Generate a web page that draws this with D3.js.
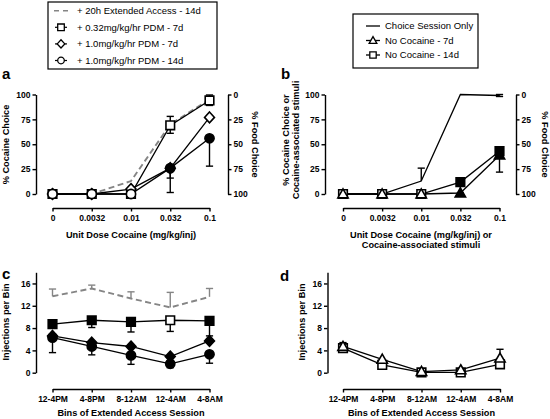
<!DOCTYPE html>
<html><head><meta charset="utf-8">
<script src="https://cdn.jsdelivr.net/npm/d3@7"></script>
<style>
body{margin:0;background:#fff;}
svg{display:block;font-family:"Liberation Sans",Arial,Helvetica,sans-serif;}
</style></head><body>
<svg id="chart" width="550" height="419"></svg>
<script>
// ---------- DATA ----------
const doseLabels = ["0","0.0032","0.01","0.032","0.1"];
const binLabels = ["12-4PM","4-8PM","8-12AM","12-4AM","4-8AM"];
const choiceTicks = [0,25,50,75,100];
const foodTicks = [0,25,50,75,100];
const injTicks = [0,4,8,12,16];

const legendA = ["+ 20h Extended Access - 14d","+ 0.32mg/kg/hr PDM - 7d","+ 1.0mg/kg/hr PDM - 7d","+ 1.0mg/kg/hr PDM - 14d"];
const legendB = ["Choice Session Only","No Cocaine - 7d","No Cocaine - 14d"];

// Panel a: % cocaine choice
const aExt14d = [0,0,13,70,95];
const aPdm032_7d = [0,0,0,69,94];
const aPdm032_7d_hi = [null,null,null,78,99.5];
const aPdm032_7d_lo = [null,null,null,61,89];
const aPdm032_7d_filled = [0,0,0,0,0];
const aPdm10_7d = [0,0,5,26,77];
const aPdm10_7d_lo = [null,null,null,16,null];
const aPdm10_7d_filled = [0,0,0,1,0];
const aPdm10_14d = [0,0,0,26,56];
const aPdm10_14d_lo = [null,null,null,1.5,28];
const aPdm10_14d_filled = [0,0,0,1,1];

// Panel b
const bChoiceOnly = [0,0,13,100,99];
const bChoiceOnly_hi = [null,null,26,null,100];
const bChoiceOnly_lo = [null,null,null,null,98];
const bNoCoc7d = [0,0,0,1,39];
const bNoCoc7d_lo = [null,null,null,null,22];
const bNoCoc7d_filled = [0,0,0,1,1];
const bNoCoc14d = [0,0,0,12,43];
const bNoCoc14d_lo = [null,null,null,1,null];
const bNoCoc14d_filled = [0,0,0,1,1];

// Panel c: injections per bin
const cExt14d = [13.7,15.1,13.3,11.7,13.6];
const cExt14d_hi = [15.0,15.7,14.5,14.4,15.1];
const cPdm032_7d = [8.7,9.4,9.1,9.4,9.3];
const cPdm032_7d_lo = [null,8.1,7.3,7.4,6.6];
const cPdm032_7d_filled = [1,1,1,0,1];
const cPdm10_7d = [6.6,5.4,4.7,2.9,5.7];
const cPdm10_7d_filled = [1,1,1,1,1];
const cPdm10_14d = [6.3,4.7,3.1,1.6,3.3];
const cPdm10_14d_lo = [3.6,3.2,1.5,0.9,1.7];
const cPdm10_14d_filled = [1,1,1,1,1];

// Panel d
const dNoCoc7d = [4.7,2.4,0.2,0.5,2.6];
const dNoCoc7d_hi = [5.4,null,null,null,4.2];
const dNoCoc14d = [4.4,1.4,0.05,0.05,1.5];
const dNoCoc14d_lo = [null,0.9,null,null,null];

// ---------- DRAWING ----------
const svg = d3.select("#chart");
const GRAY = "#858585";

function markerPath(type, r) {
  if (type === "square") return `M${-r},${-r}h${2*r}v${2*r}h${-2*r}Z`;
  if (type === "circle") return d3.symbol(d3.symbolCircle, Math.PI*r*r)();
  if (type === "diamond") return `M0,${-r*1.25}L${r*1.15},0L0,${r*1.25}L${-r*1.15},0Z`;
  if (type === "triangle") return `M0,${-r*1.2}L${r*1.2},${r*0.9}L${-r*1.2},${r*0.9}Z`;
  return "";
}

function styleAxis(g, fs) {
  g.select(".domain").attr("stroke","#000").attr("stroke-width",1.4);
  g.selectAll(".tick line").attr("stroke","#000").attr("stroke-width",1.4);
  g.selectAll(".tick text").attr("fill","#000").attr("font-size",fs||8.5).attr("font-weight","bold");
  g.attr("font-family",null);
}

function panel(cfg) {
  const g = svg.append("g");
  const x = d3.scalePoint().domain(cfg.cats).range(cfg.xRange);
  const y = d3.scaleLinear().domain(cfg.yDomain).range(cfg.yRange);

  // left axis
  const ya = g.append("g").attr("transform",`translate(${cfg.leftX},0)`)
    .call(d3.axisLeft(y).tickValues(cfg.yTicks).tickSize(3.5).tickSizeOuter(0).tickPadding(2));
  styleAxis(ya);
  // right axis
  if (cfg.rightX) {
    const yr = d3.scaleLinear().domain([100,0]).range(cfg.yRange);
    const ra = g.append("g").attr("transform",`translate(${cfg.rightX},0)`)
      .call(d3.axisRight(yr).tickValues(foodTicks).tickSize(3.5).tickSizeOuter(0).tickPadding(2));
    styleAxis(ra);
  }
  // x axis
  const xa = g.append("g").attr("transform",`translate(0,${cfg.xAxisY})`)
    .call(d3.axisBottom(x).tickSize(3.5).tickSizeOuter(0).tickPadding(3.5));
  styleAxis(xa);

  // series lines
  cfg.series.forEach(s => {
    const line = d3.line().x((d,i)=>x(cfg.cats[i])).y(d=>y(d));
    g.append("path").attr("d", line(s.values)).attr("fill","none")
      .attr("stroke", s.color || "#000").attr("stroke-width", s.dashed ? 1.9 : 1.3)
      .attr("stroke-dasharray", s.dashed ? "6,3.5" : null);
  });
  // error bars
  cfg.series.forEach(s => {
    ["hi","lo"].forEach(k => {
      if (!s[k]) return;
      s[k].forEach((e,i) => {
        if (e === null || e === undefined) return;
        const cx = x(cfg.cats[i]);
        g.append("line").attr("x1",cx).attr("x2",cx).attr("y1",y(s.values[i])).attr("y2",y(e))
          .attr("stroke", s.color||"#000").attr("stroke-width",1.4);
        g.append("line").attr("x1",cx-3.6).attr("x2",cx+3.6).attr("y1",y(e)).attr("y2",y(e))
          .attr("stroke", s.color||"#000").attr("stroke-width",1.4);
      });
    });
  });
  // markers
  cfg.series.forEach(s => {
    if (!s.marker) return;
    s.values.forEach((v,i) => {
      const filled = s.filled && s.filled[i];
      g.append("path").attr("d", markerPath(s.marker, s.r || 4.3))
        .attr("transform",`translate(${x(cfg.cats[i])},${y(v)})`)
        .attr("fill", filled ? "#000" : "#fff").attr("stroke","#000").attr("stroke-width",1.6);
    });
  });
  return g;
}

function text(x, y, str, opts) {
  opts = opts || {};
  const t = svg.append("text").attr("x",x).attr("y",y).text(str)
    .attr("font-size", opts.fs || 9.2).attr("font-weight", opts.bold === false ? "normal" : "bold")
    .attr("text-anchor", opts.anchor || "middle").attr("fill","#000");
  if (opts.rot) t.attr("transform",`rotate(${opts.rot},${x},${y})`);
  return t;
}

// Panel a
panel({cats: doseLabels, xRange:[52.5,209.5], yDomain:[0,100], yRange:[194,94.5], yTicks: choiceTicks,
  leftX:36, rightX:228, xAxisY:208,
  series:[
    {values:aExt14d, dashed:true, color:GRAY},
    {values:aPdm032_7d, hi:aPdm032_7d_hi, lo:aPdm032_7d_lo, marker:"square", filled:aPdm032_7d_filled},
    {values:aPdm10_7d, lo:aPdm10_7d_lo, marker:"diamond", filled:aPdm10_7d_filled},
    {values:aPdm10_14d, lo:aPdm10_14d_lo, marker:"circle", filled:aPdm10_14d_filled, r:4.6}
  ]});
// Panel b
panel({cats: doseLabels, xRange:[343,499.5], yDomain:[0,100], yRange:[194,94.5], yTicks: choiceTicks,
  leftX:325, rightX:516, xAxisY:208,
  series:[
    {values:bChoiceOnly, hi:bChoiceOnly_hi, lo:bChoiceOnly_lo},
    {values:bNoCoc14d, lo:bNoCoc14d_lo, marker:"square", filled:bNoCoc14d_filled},
    {values:bNoCoc7d, lo:bNoCoc7d_lo, marker:"triangle", filled:bNoCoc7d_filled}
  ]});
// Panel c
panel({cats: binLabels, xRange:[52.5,209.5], yDomain:[0,18], yRange:[372.7,272.3], yTicks: injTicks,
  leftX:36, xAxisY:389,
  series:[
    {values:cExt14d, hi:cExt14d_hi, dashed:true, color:GRAY},
    {values:cPdm032_7d, lo:cPdm032_7d_lo, marker:"square", filled:cPdm032_7d_filled},
    {values:cPdm10_14d, lo:cPdm10_14d_lo, marker:"circle", filled:cPdm10_14d_filled, r:4.6},
    {values:cPdm10_7d, marker:"diamond", filled:cPdm10_7d_filled}
  ]});
// Panel d
panel({cats: binLabels, xRange:[343,500], yDomain:[0,18], yRange:[372.7,272.3], yTicks: injTicks,
  leftX:327.5, xAxisY:389,
  series:[
    {values:dNoCoc14d, lo:dNoCoc14d_lo, marker:"square"},
    {values:dNoCoc7d, hi:dNoCoc7d_hi, marker:"triangle"}
  ]});

// Panel letters
text(2, 79, "a", {fs:15, anchor:"start"});
text(281, 79, "b", {fs:15, anchor:"start"});
text(2, 279, "c", {fs:15, anchor:"start"});
text(280, 281, "d", {fs:15, anchor:"start"});

// Axis titles
text(8.8, 144.5, "% Cocaine Choice", {rot:-90});
text(252, 144.5, "% Food Choice", {rot:90});
text(131, 237.5, "Unit Dose Cocaine (mg/kg/inj)");
text(288.5, 140, "% Cocaine Choice or", {rot:-90});
text(298.8, 140, "Cocaine-associated stimuli", {rot:-90});
text(542, 144.5, "% Food Choice", {rot:90});
text(421, 237.5, "Unit Dose Cocaine (mg/kg/inj) or");
text(421, 247.8, "Cocaine-associated stimuli");
text(8.8, 322, "Injections per Bin", {rot:-90});
text(305, 322, "Injections per Bin", {rot:-90});
text(131, 416, "Bins of Extended Access Session");
text(421.5, 416, "Bins of Extended Access Session");

// Legend a
svg.append("rect").attr("x",48).attr("y",2).attr("width",169).attr("height",67)
  .attr("fill","#fff").attr("stroke","#000").attr("stroke-width",1.2);
const legAstyle = [{dashed:true},{marker:"square"},{marker:"diamond"},{marker:"circle"}];
legendA.forEach((lab,i) => {
  const cy = 10.7 + i*16.6;
  if (legAstyle[i].dashed) {
    svg.append("line").attr("x1",54).attr("x2",68).attr("y1",cy).attr("y2",cy)
      .attr("stroke",GRAY).attr("stroke-width",1.6).attr("stroke-dasharray","5,4");
  } else {
    svg.append("line").attr("x1",55).attr("x2",67).attr("y1",cy).attr("y2",cy)
      .attr("stroke","#000").attr("stroke-width",1.2);
    svg.append("path").attr("d", markerPath(legAstyle[i].marker, 3.3))
      .attr("transform",`translate(61,${cy})`).attr("fill","#fff").attr("stroke","#000").attr("stroke-width",1.3);
  }
  text(77, cy+3.3, lab, {fs:9.5, bold:false, anchor:"start"});
});
// Legend b
svg.append("rect").attr("x",353).attr("y",14).attr("width",125).attr("height",54)
  .attr("fill","#fff").attr("stroke","#000").attr("stroke-width",1.2);
const legBstyle = [{}, {marker:"triangle"}, {marker:"square"}];
legendB.forEach((lab,i) => {
  const cy = 26 + i*14.5;
  svg.append("line").attr("x1",366).attr("x2",380).attr("y1",cy).attr("y2",cy)
    .attr("stroke","#000").attr("stroke-width",1.3);
  if (legBstyle[i].marker) {
    svg.append("path").attr("d", markerPath(legBstyle[i].marker, 3.2))
      .attr("transform",`translate(373,${cy})`).attr("fill","#fff").attr("stroke","#000").attr("stroke-width",1.3);
  }
  text(385, cy+3.3, lab, {fs:9.5, bold:false, anchor:"start"});
});
</script>
</body></html>
